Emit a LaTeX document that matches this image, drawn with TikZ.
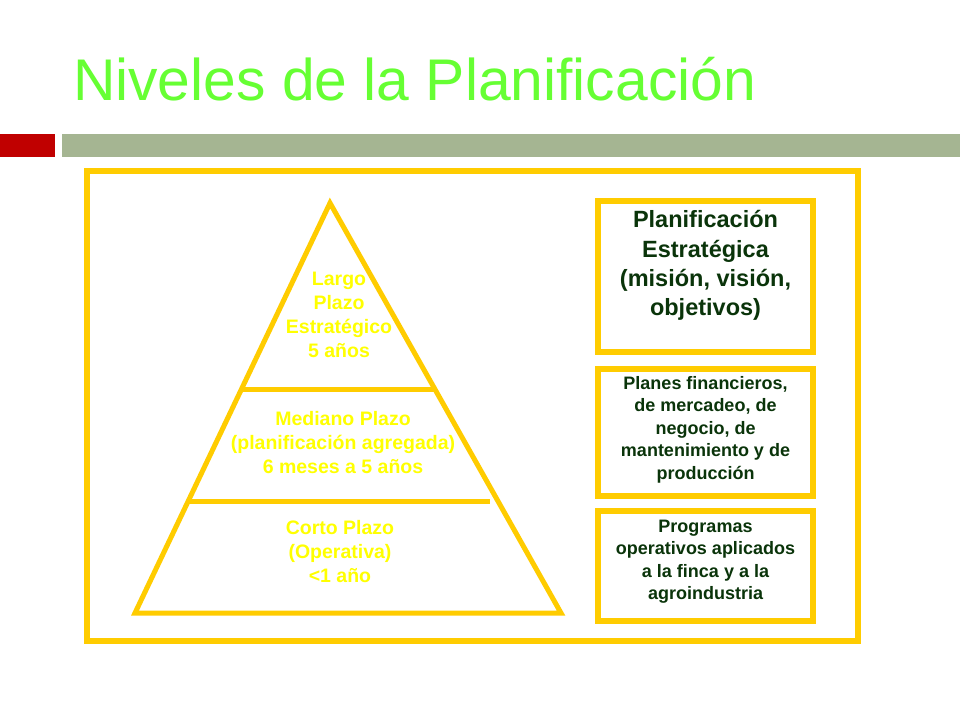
\documentclass[tikz,border=0pt]{standalone}
\usepackage{fontspec}
\setmainfont{Liberation Sans}
\usepackage{tikz}
\usetikzlibrary{positioning}
\definecolor{titlegreen}{RGB}{102,255,51}
\definecolor{barred}{RGB}{192,0,0}
\definecolor{barsage}{RGB}{165,181,146}
\definecolor{gold}{RGB}{255,204,0}
\definecolor{pyrtext}{RGB}{255,255,0}
\definecolor{darkgreen}{RGB}{10,52,10}
\begin{document}
\begin{tikzpicture}[x=1pt, y=-1pt, every node/.style={inner sep=0pt, outer sep=0pt}]
			\useasboundingbox[fill=white] (0,0) rectangle (960,720);
			% title and bars
			\node[anchor=base west,text=titlegreen,font=\fontsize{58.8}{70}\selectfont] (title) at (73,100) {Niveles de la Planificación};
			\fill[barred] (0,134) rectangle (55,157);
			\fill[barsage] (62,134) rectangle (960,157);
			\draw[gold,line width=5.5pt] (87,171) rectangle (858,641);
			% pyramid
			\coordinate (apex) at (330,203);
			\coordinate (baseL) at (135,613);
			\coordinate (baseR) at (561,613);
			\draw[gold,line width=5pt] (apex) -- (baseR) -- (baseL) -- cycle;
			\coordinate (midL) at (241,389);
			\coordinate (midR) at (435,389);
			\coordinate (lowL) at (188,501);
			\coordinate (lowR) at (490,501);
			\draw[gold,line width=5pt] (midL) -- (midR);
			\draw[gold,line width=5pt] (lowL) -- (lowR);
			\node[text=pyrtext,align=center,font=\bfseries\fontsize{19.5}{24}\selectfont] (largo) at (339,315) {Largo\\Plazo\\Estratégico\\5 años};
			\node[text=pyrtext,align=center,font=\bfseries\fontsize{19.5}{24}\selectfont] (mediano) at (343,443) {Mediano Plazo\\(planificación agregada)\\6 meses a 5 años};
			\node[text=pyrtext,align=center,font=\bfseries\fontsize{19.5}{24}\selectfont] (corto) at (340,551.5) {Corto Plazo\\(Operativa)\\<1 año};
			% boxes on the right
			\node[draw=gold,line width=5.5pt,minimum width=215pt,minimum height=151pt] (estr) at (705.5,276.5) {};
			\node[draw=gold,line width=5.5pt,minimum width=215pt,minimum height=127pt,below=17pt of estr] (planes) {};
			\node[draw=gold,line width=5.5pt,minimum width=215pt,minimum height=110pt,below=15pt of planes] (progr) {};
			\node[text=darkgreen,align=center,font=\bfseries\fontsize{23.5}{29.3}\selectfont] (estrtxt) at ([yshift=11pt]estr.center) {Planificación\\Estratégica\\(misión, visión,\\objetivos)};
			\node[text=darkgreen,align=center,font=\bfseries\fontsize{18}{22.5}\selectfont] (planestxt) at ([yshift=3pt]planes.center) {Planes financieros,\\de mercadeo, de\\negocio, de\\mantenimiento y de\\producción};
			\node[text=darkgreen,align=center,font=\bfseries\fontsize{18}{22.5}\selectfont] (progrtxt) at ([yshift=4.5pt]progr.center) {Programas\\operativos aplicados\\a la finca y a la\\agroindustria};
		\end{tikzpicture}
\end{document}
